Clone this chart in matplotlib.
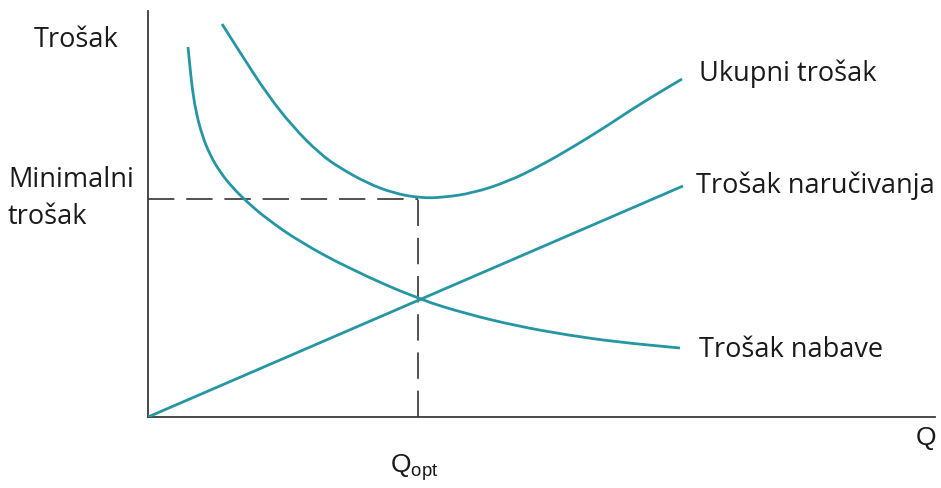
import matplotlib
matplotlib.use("Agg")
import matplotlib.pyplot as plt
from matplotlib.path import Path
from matplotlib.patches import PathPatch

# ---- data (arbitrary units) ----
q_nabave = [4.0, 4.15, 4.4, 4.8, 5.4, 6.2, 7.2, 8.4, 9.9, 11.9, 15.2, 20.2, 27.0, 31.9, 36.9, 41.9, 46.9, 53.2]
c_nabave = [37.0, 35.5, 33.0, 30.5, 28.2, 26.2, 24.5, 23.0, 21.5, 19.8, 17.5, 14.8, 11.8, 10.3, 9.1, 8.2, 7.5, 6.9]

q_ukupni = [7.4, 9.5, 11.9, 14.5, 17.2, 19.2, 21.9, 24.5, 27.2, 29.5, 32.5, 35.9, 39.2, 42.5, 45.9, 49.2, 53.4]
c_ukupni = [39.3, 36.0, 32.3, 29.0, 26.3, 24.9, 23.4, 22.4, 21.9, 21.95, 22.4, 23.5, 25.1, 27.0, 29.1, 31.3, 33.8]

q_naruc = [0.0, 53.5]
c_naruc = [0.0, 23.1]

q_opt = 27.0
c_min = 21.8

labels = {
    "y": "Trošak",
    "min1": "Minimalni",
    "min2": "trošak",
    "ukupni": "Ukupni trošak",
    "naruc": "Trošak naručivanja",
    "nabave": "Trošak nabave",
    "x": "Q",
    "qopt": r"$\mathregular{Q_{opt}}$",
}

# ---- figure ----
W, H = 941, 489
plt.rcParams["lines.scale_dashes"] = False
fig = plt.figure(figsize=(W / 100, H / 100), dpi=100)
fig.patch.set_facecolor("white")

ax = fig.add_axes([148 / W, (H - 418) / H, (935 - 148) / W, (418 - 12) / H])
ax.set_xlim(0, 78.7)
ax.set_ylim(0, 40.6)
for s in ["top", "right"]:
    ax.spines[s].set_visible(False)
for s in ["left", "bottom"]:
    ax.spines[s].set_color("#3a3a3a")
    ax.spines[s].set_linewidth(1.3)
ax.set_xticks([])
ax.set_yticks([])
ax.patch.set_alpha(0)

teal = "#2596a3"
lw = 2.0


def smooth_path(xs, ys):
    """Quadratic Bezier path through the midpoints, using the read points as controls."""
    pts = list(zip(xs, ys))
    if len(pts) < 3:
        return Path(pts, [Path.MOVETO] + [Path.LINETO] * (len(pts) - 1))
    verts = [pts[0]]
    codes = [Path.MOVETO]
    mid = ((pts[0][0] + pts[1][0]) / 2, (pts[0][1] + pts[1][1]) / 2)
    verts.append(mid)
    codes.append(Path.LINETO)
    for i in range(1, len(pts) - 1):
        nxt = ((pts[i][0] + pts[i + 1][0]) / 2, (pts[i][1] + pts[i + 1][1]) / 2)
        verts += [pts[i], nxt]
        codes += [Path.CURVE3, Path.CURVE3]
    verts.append(pts[-1])
    codes.append(Path.LINETO)
    return Path(verts, codes)


for qs, cs in [(q_nabave, c_nabave), (q_ukupni, c_ukupni), (q_naruc, c_naruc)]:
    ax.add_patch(PathPatch(smooth_path(qs, cs), facecolor="none", edgecolor=teal,
                           lw=lw, capstyle="butt", joinstyle="round", zorder=3))

dash_kw = dict(color="#222222", lw=1.1, dashes=(19, 8.5), zorder=2)
ax.plot([0, q_opt], [c_min, c_min], **dash_kw)
ax.plot([q_opt, q_opt], [0, c_min], **dash_kw)


def ftext(px, py, s, size, family="Open Sans", ha="left", **kw):
    fig.text(px / W, 1 - py / H, s, fontsize=size, family=family,
             ha=ha, va="center", color="#1a1a1a", **kw)


fs = 19.5
ftext(34, 40, labels["y"], fs)
ftext(8, 180, labels["min1"], fs)
ftext(8, 217, labels["min2"], fs)
ftext(699, 74, labels["ukupni"], fs)
ftext(696, 186, labels["naruc"], fs)
ftext(699, 350, labels["nabave"], fs)
ftext(916, 438, labels["x"], 19, family="Liberation Sans")
ftext(390, 468, labels["qopt"], 19, family="Liberation Sans")

fig.savefig("out.png", dpi=100, facecolor="white")
